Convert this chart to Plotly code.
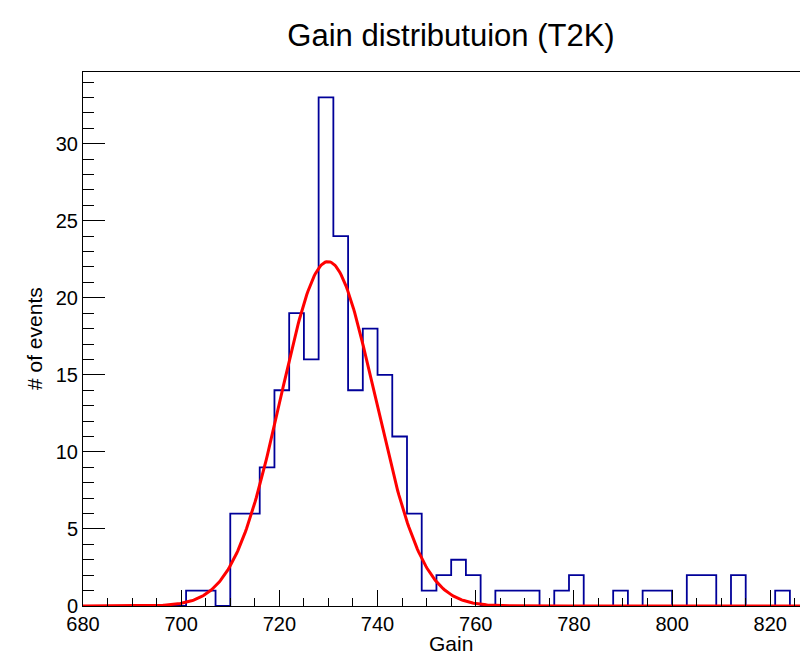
import numpy as np
import plotly.graph_objects as go

# Histogram: bins of width 3 starting at 680
bin_start = 680
bin_width = 3
counts = [0, 0, 0, 0, 0, 0, 0, 1, 1, 0,
          6, 6, 9, 14, 19, 16, 33, 24, 14, 18,
          15, 11, 6, 1, 2, 3, 2, 0, 1, 1,
          1, 0, 1, 2, 0, 0, 1, 0, 1, 1,
          0, 2, 2, 0, 2, 0, 0, 1, 0, 0]

# Gaussian fit parameters
fit_amp = 22.35
fit_mean = 729.9
fit_sigma = 9.6

title_text = "Gain distributuion (T2K)"
x_title = "Gain"
y_title = "# of events"

edges = [bin_start + bin_width * i for i in range(len(counts) + 1)]
hx = edges
hy = counts + [counts[-1]]

fx = np.linspace(680, 830, 600)
fy = fit_amp * np.exp(-0.5 * ((fx - fit_mean) / fit_sigma) ** 2)

FONT = "Liberation Sans, Arial, Helvetica, sans-serif"

fig = go.Figure()
fig.add_trace(go.Scatter(x=hx, y=hy, mode="lines", line=dict(shape="hv", color="#000099", width=1.8),
                         showlegend=False, hoverinfo="skip"))
fig.add_trace(go.Scatter(x=fx, y=fy, mode="lines", line=dict(color="#ff0000", width=3),
                         showlegend=False, hoverinfo="skip"))

L, T, B = 83, 72, 48
W, H = 800, 654
plot_w = W - L
plot_h = H - T - B

fig.update_layout(
    width=W, height=H,
    margin=dict(l=L, r=0, t=T, b=B, pad=0),
    paper_bgcolor="white", plot_bgcolor="white",
    font=dict(family=FONT, color="black", size=20),
    title=dict(text=title_text, x=451 / W, xanchor="center", xref="container",
               y=1 - 35 / H, yanchor="middle", yref="container",
               font=dict(size=31, family=FONT, color="black")),
)
fig.update_xaxes(
    range=[680, 680 + plot_w / 4.909], showgrid=False, zeroline=False,
    showline=True, linecolor="black", linewidth=1, mirror=True,
    ticks="inside", ticklen=16, tickcolor="black", tickwidth=1,
    tick0=680, dtick=20, tickfont=dict(size=20),
    minor=dict(dtick=5, ticklen=8, ticks="inside", tickcolor="black", tickwidth=1, showgrid=False),
)
fig.update_yaxes(
    range=[0, 34.65], showgrid=False, zeroline=False,
    showline=True, linecolor="black", linewidth=1, mirror=False,
    ticks="inside", ticklen=22, tickcolor="black", tickwidth=1,
    tick0=0, dtick=5, tickfont=dict(size=20),
    minor=dict(dtick=1, ticklen=11, ticks="inside", tickcolor="black", tickwidth=1, showgrid=False),
)

fig.add_annotation(text=x_title, xref="paper", yref="paper",
                   x=(451 - L) / plot_w, y=-(643 - (T + plot_h)) / plot_h,
                   xanchor="center", yanchor="middle", showarrow=False,
                   font=dict(size=21, family=FONT, color="black"))
fig.add_annotation(text=y_title, xref="paper", yref="paper",
                   x=(34 - L) / plot_w, y=0.5, textangle=-90,
                   xanchor="center", yanchor="middle", showarrow=False,
                   font=dict(size=21, family=FONT, color="black"))

fig.write_html("out.html")
